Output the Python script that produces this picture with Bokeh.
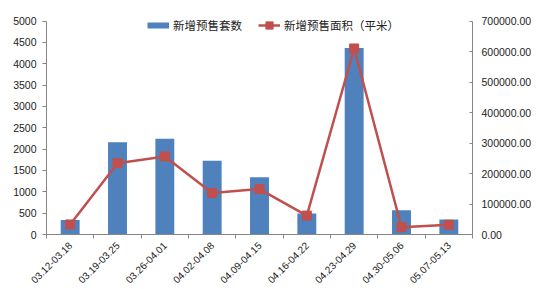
import numpy as np
from bokeh.plotting import figure
from bokeh.models import (Range1d, LinearAxis, FixedTicker, NumeralTickFormatter,
                          Legend, LegendItem, ColumnDataSource)
from bokeh.embed import file_html
from bokeh.resources import INLINE

categories = ["03.12-03.18", "03.19-03.25", "03.26-04.01", "04.02-04.08", "04.09-04.15",
              "04.16-04.22", "04.23-04.29", "04.30-05.06", "05.07-05.13"]
units = [340, 2160, 2240, 1730, 1340, 490, 4370, 567, 350]
area = [33000, 234000, 256000, 136000, 149000, 62000, 610000, 24000, 32000]
left_ticks = [0, 500, 1000, 1500, 2000, 2500, 3000, 3500, 4000, 4500, 5000]
right_ticks = [0, 100000, 200000, 300000, 400000, 500000, 600000, 700000]
series_names = ["新增预售套数", "新增预售面积（平米）"]

BLUE = "#4F81BD"
RED = "#C0504D"
GRAY = "#868686"
TXT = "#222222"

HEAD = 1.04  # headroom above the top tick so the legend is not clipped

xs = [i + 0.5 for i in range(len(categories))]
src = ColumnDataSource(dict(x=xs, units=units, area=area, cat=categories))

p = figure(width=547, height=289, output_backend="svg", toolbar_location=None,
           x_range=Range1d(0, len(categories)), y_range=Range1d(0, left_ticks[-1] * HEAD),
           min_border_left=46, min_border_right=75, min_border_top=12, min_border_bottom=54)
p.outline_line_color = None
p.xgrid.visible = False
p.ygrid.visible = False
p.extra_y_ranges = {"area": Range1d(0, right_ticks[-1] * HEAD)}

bars = p.vbar(x="x", top="units", width=0.4, source=src, fill_color=BLUE, line_color=None)
ln = p.line(x="x", y="area", source=src, y_range_name="area", line_color=RED, line_width=2.5)
sc = p.scatter(x="x", y="area", source=src, y_range_name="area", marker="square", size=9,
               fill_color=RED, line_color=RED)
# legend swatch for the bars
swatch = p.line(x=[xs[0], xs[0]], y=[-10, -10], line_color=BLUE, line_width=6)

# bottom axis
xa = p.xaxis[0]
xa.ticker = FixedTicker(ticks=xs, minor_ticks=list(range(len(categories) + 1)))
xa.major_label_overrides = {x: c for x, c in zip(xs, categories)}
xa.major_tick_out = 0
xa.major_tick_in = 0
xa.minor_tick_out = 4
xa.minor_tick_in = 0
xa.minor_tick_line_color = GRAY
xa.axis_line_color = GRAY
xa.major_label_orientation = np.pi / 4
xa.major_label_text_font = "Liberation Sans"
xa.major_label_text_font_size = "10px"
xa.major_label_text_color = TXT
xa.major_label_standoff = 5

# left axis
ya = p.yaxis[0]
ya.ticker = FixedTicker(ticks=left_ticks)
ya.bounds = (left_ticks[0], left_ticks[-1])
ya.minor_tick_line_color = None
ya.major_tick_out = 4
ya.major_tick_in = 0
ya.major_tick_line_color = GRAY
ya.axis_line_color = GRAY
ya.major_label_text_font = "Liberation Sans"
ya.major_label_text_font_size = "10.5px"
ya.major_label_text_color = TXT
ya.major_label_standoff = 6

# right axis
ra = LinearAxis(y_range_name="area", ticker=FixedTicker(ticks=right_ticks),
                formatter=NumeralTickFormatter(format="0.00"),
                bounds=(right_ticks[0], right_ticks[-1]))
ra.minor_tick_line_color = None
ra.major_tick_out = 0
ra.major_tick_in = 3
ra.major_tick_line_color = GRAY
ra.axis_line_color = GRAY
ra.major_label_text_font = "Liberation Sans"
ra.major_label_text_font_size = "10.5px"
ra.major_label_text_color = TXT
ra.major_label_standoff = 9
p.add_layout(ra, "right")

legend = Legend(items=[LegendItem(label=series_names[0], renderers=[swatch]),
                       LegendItem(label=series_names[1], renderers=[ln, sc])],
                orientation="horizontal", location=(101, 200),
                border_line_color=None, background_fill_alpha=0,
                label_text_font="Noto Sans CJK SC", label_text_font_size="11.5px",
                label_text_color=TXT, glyph_width=22, glyph_height=18,
                label_standoff=4, spacing=16, padding=0, margin=0, label_height=14)
p.add_layout(legend, "center")

open("out.html", "w").write(file_html(p, INLINE))
